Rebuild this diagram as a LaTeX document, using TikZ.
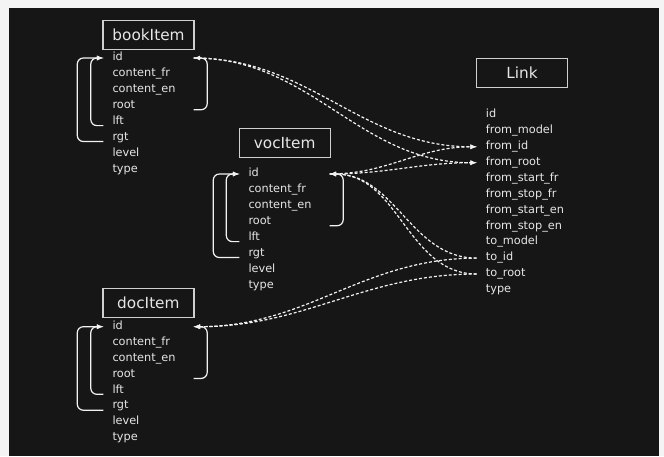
\documentclass[tikz,border=0pt]{standalone}
\usepackage{fontspec}
\setmainfont{DejaVu Sans}
\usepackage{tikz}
\usetikzlibrary{arrows, positioning}
\definecolor{page-grey}{HTML}{F4F4F4}
\definecolor{canvas-dark}{HTML}{161616}
\definecolor{field-text}{HTML}{E6E6E6}
\definecolor{box-line}{HTML}{D0D0D0}
\definecolor{wire}{HTML}{F2F2F2}

\begin{document}
\begin{tikzpicture}[
    x=1pt, y=1pt,
    node distance=0pt,
    titlebox/.style={draw=box-line, line width=1.3pt, minimum width=91pt, minimum height=29pt, inner sep=0pt, text=field-text, font=\fontsize{15.3}{18}\selectfont},
    fieldnode/.style={anchor=west, text width=72pt, align=left, inner xsep=9pt, inner ysep=0pt, minimum height=15.5pt, text height=8pt, text depth=2.5pt, text=field-text, font=\fontsize{11.3}{13}\selectfont},
    linknode/.style={fieldnode, text width=84pt},
    bracket/.style={-latex, line width=1.2pt, draw=wire, rounded corners=6pt},
    reflink/.style={-latex, line width=1.2pt, draw=wire, dash pattern=on 3pt off 2pt}
]
    % --- Canvas ---
    \fill [page-grey] (0,0) rectangle (664,-456);
    \fill [canvas-dark] (9,-8) rectangle (659,-456);

    % --- Nodes Definitions ---
    % bookItem
    \node (book) [titlebox] at (148.5,-35) {bookItem};
    \node (book_id) [fieldnode] at (103.3,-58) {id};
    \node (book_cfr) [fieldnode, below=of book_id] {content\_fr};
    \node (book_cen) [fieldnode, below=of book_cfr] {content\_en};
    \node (book_root) [fieldnode, below=of book_cen] {root};
    \node (book_lft) [fieldnode, below=of book_root] {lft};
    \node (book_rgt) [fieldnode, below=of book_lft] {rgt};
    \node (book_level) [fieldnode, below=of book_rgt] {level};
    \node (book_type) [fieldnode, below=of book_level] {type};

    % vocItem
    \node (voc) [titlebox] at (284.7,-142.8) {vocItem};
    \node (voc_id) [fieldnode] at (239.3,-174) {id};
    \node (voc_cfr) [fieldnode, below=of voc_id] {content\_fr};
    \node (voc_cen) [fieldnode, below=of voc_cfr] {content\_en};
    \node (voc_root) [fieldnode, below=of voc_cen] {root};
    \node (voc_lft) [fieldnode, below=of voc_root] {lft};
    \node (voc_rgt) [fieldnode, below=of voc_lft] {rgt};
    \node (voc_level) [fieldnode, below=of voc_rgt] {level};
    \node (voc_type) [fieldnode, below=of voc_level] {type};

    % docItem
    \node (doc) [titlebox] at (148.4,-303.2) {docItem};
    \node (doc_id) [fieldnode] at (103.3,-326.7) {id};
    \node (doc_cfr) [fieldnode, below=of doc_id] {content\_fr};
    \node (doc_cen) [fieldnode, below=of doc_cfr] {content\_en};
    \node (doc_root) [fieldnode, below=of doc_cen] {root};
    \node (doc_lft) [fieldnode, below=of doc_root] {lft};
    \node (doc_rgt) [fieldnode, below=of doc_lft] {rgt};
    \node (doc_level) [fieldnode, below=of doc_rgt] {level};
    \node (doc_type) [fieldnode, below=of doc_level] {type};

    % Link
    \node (link) [titlebox] at (522,-73) {Link};
    \node (link_id) [linknode] at (476.7,-115) {id};
    \node (link_from_model) [linknode, below=of link_id] {from\_model};
    \node (link_from_id) [linknode, below=of link_from_model] {from\_id};
    \node (link_from_root) [linknode, below=of link_from_id] {from\_root};
    \node (link_from_start_fr) [linknode, below=of link_from_root] {from\_start\_fr};
    \node (link_from_stop_fr) [linknode, below=of link_from_start_fr] {from\_stop\_fr};
    \node (link_from_start_en) [linknode, below=of link_from_stop_fr] {from\_start\_en};
    \node (link_from_stop_en) [linknode, below=of link_from_start_en] {from\_stop\_en};
    \node (link_to_model) [linknode, below=of link_from_stop_en] {to\_model};
    \node (link_to_id) [linknode, below=of link_to_model] {to\_id};
    \node (link_to_root) [linknode, below=of link_to_id] {to\_root};
    \node (link_type) [linknode, below=of link_to_root] {type};

    % --- Tree Brackets ---
    \draw [bracket] ([yshift=-4pt]book_lft.west) -- ++(-12.5,0) |- (book_id.west);
    \draw [bracket] ([yshift=-4pt]book_rgt.west) -- ++(-26,0) |- (book_id.west);
    \draw [bracket] ([yshift=-4pt]book_root.east) -- ++(13.5,0) |- (book_id.east);

    \draw [bracket] ([yshift=-4pt]voc_lft.west) -- ++(-13,0) |- (voc_id.west);
    \draw [bracket] ([yshift=-4pt]voc_rgt.west) -- ++(-26,0) |- (voc_id.west);
    \draw [bracket] ([yshift=-4pt]voc_root.east) -- ++(13.5,0) |- (voc_id.east);

    \draw [bracket] ([yshift=-4pt]doc_lft.west) -- ++(-12.5,0) |- (doc_id.west);
    \draw [bracket] ([yshift=-4pt]doc_rgt.west) -- ++(-26,0) |- (doc_id.west);
    \draw [bracket] ([yshift=-4pt]doc_root.east) -- ++(13.5,0) |- (doc_id.east);

    % --- Connections ---
    \draw [reflink] (book_id.east) to [out=0, in=180] (link_from_id.west);
    \draw [reflink] (book_id.east) to [out=0, in=180] (link_from_root.west);
    \draw [reflink] (voc_id.east) to [out=0, in=180] (link_from_id.west);
    \draw [reflink] (voc_id.east) to [out=0, in=180] (link_from_root.west);

    \draw [reflink] (link_to_id.west) to [out=180, in=0] (voc_id.east);
    \draw [reflink] (link_to_root.west) to [out=180, in=0] (voc_id.east);
    \draw [reflink] (link_to_id.west) to [out=180, in=0] (doc_id.east);
    \draw [reflink] (link_to_root.west) to [out=180, in=0] (doc_id.east);

\end{tikzpicture}
\end{document}
